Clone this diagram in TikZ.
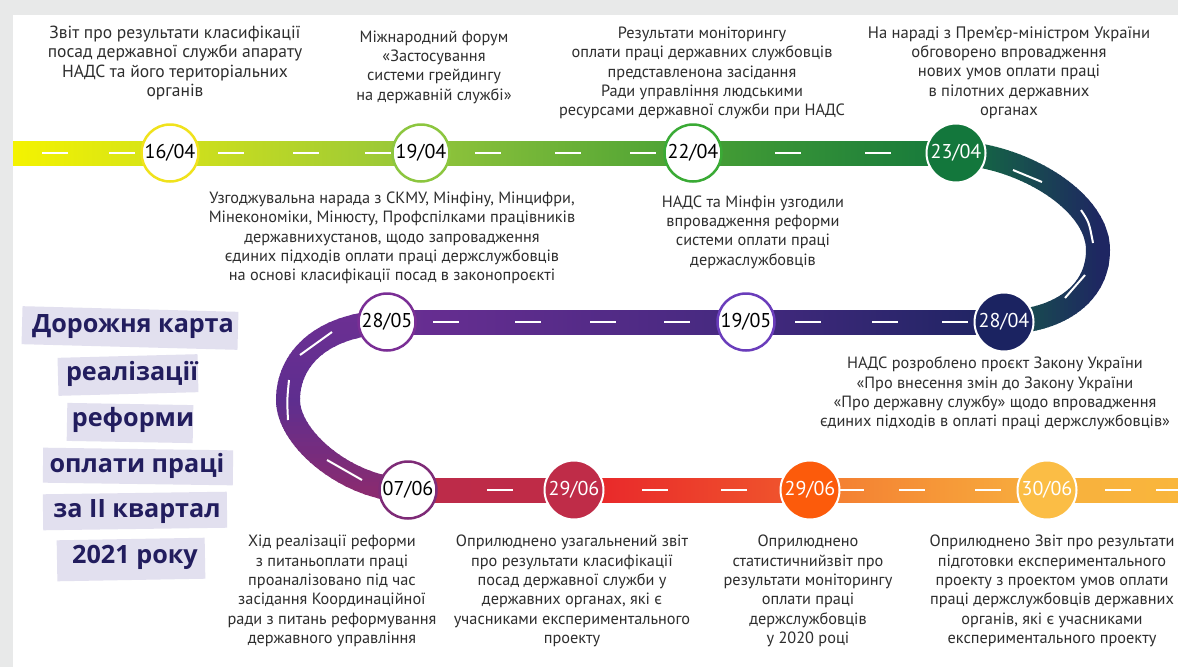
\documentclass[tikz,border=0pt]{standalone}
\usepackage{fontspec}
\setmainfont{PT Sans}
\newfontfamily\titlefont{Open Sans}
\pgfdeclarelayer{road}
\pgfsetlayers{road,main}
\definecolor{bggray}{HTML}{E8E9E9}
\definecolor{r0}{HTML}{F4F300}
\definecolor{r1}{HTML}{D3E21A}
\definecolor{r2}{HTML}{93C53B}
\definecolor{r3}{HTML}{48A034}
\definecolor{r4}{HTML}{13773C}
\definecolor{cGreen}{HTML}{12733D}
\definecolor{cNavy}{HTML}{1E2662}
\definecolor{m0}{HTML}{6A2E93}
\definecolor{m1}{HTML}{44297F}
\definecolor{m2}{HTML}{1D2461}
\definecolor{lTop}{HTML}{6C2F93}
\definecolor{lMid}{HTML}{5E2E8F}
\definecolor{lBot}{HTML}{8A2B70}
\definecolor{b0}{HTML}{BC2B4A}
\definecolor{b1}{HTML}{C02B46}
\definecolor{b2}{HTML}{E8232A}
\definecolor{b3}{HTML}{F0592D}
\definecolor{b4}{HTML}{F37A31}
\definecolor{b5}{HTML}{F8B03E}
\definecolor{b6}{HTML}{F9B63C}
\definecolor{c16}{HTML}{F0E21C}
\definecolor{c19}{HTML}{8CC63F}
\definecolor{c22}{HTML}{3AAA35}
\definecolor{c23}{HTML}{13773C}
\definecolor{c28a}{HTML}{1B2361}
\definecolor{c19m}{HTML}{6A3DBB}
\definecolor{c28m}{HTML}{7A2E95}
\definecolor{c07}{HTML}{7E2B77}
\definecolor{c29a}{HTML}{BF2C48}
\definecolor{c29b}{HTML}{FC5B0B}
\definecolor{c30}{HTML}{FBBD45}
\definecolor{txtgray}{HTML}{2E2E2E}
\definecolor{ttlnavy}{HTML}{221D5E}
\definecolor{hlgray}{HTML}{E2E0EF}
\newcommand{\datefont}{\fontsize{20}{24}\selectfont}
\newcommand{\notefont}{\fontsize{16.3}{19.3}\selectfont}
\newcommand{\bignotefont}{\fontsize{17.5}{19.6}\selectfont}
\newcommand{\headfont}{\titlefont\bfseries\fontsize{25.2}{28}\selectfont}
\begin{document}
\begin{tikzpicture}[x=1pt,y=-1pt,
  dopen/.style={circle, fill=white, draw=#1, line width=2.5pt, minimum size=57pt, inner sep=0pt, font=\datefont, text=black},
  dfull/.style={circle, fill=#1, draw=white, line width=2pt, minimum size=59pt, inner sep=0pt, font=\datefont, text=white},
  txt/.style={align=center, font=\notefont, text=txtgray, inner sep=0pt},
  ttl/.style={font=\headfont, text=ttlnavy, inner sep=0pt},
  hl/.style={fill=hlgray},
  dsh/.style={white, line width=2pt},
  roadline/.style={line width=24pt}]
\useasboundingbox (0,0) rectangle (1178,667);

% date circles
\node[dopen=c16] (d1) at (170,153) {16/04};
\node[dopen=c19] (d2) at (421,153) {19/04};
\node[dopen=c22] (d3) at (693,153) {22/04};
\node[dfull=c23] (d4) at (956,153) {23/04};
\node[dfull=c28a] (d5) at (1004,322) {28/04};
\node[dopen=c19m] (d6) at (746,322) {19/05};
\node[dopen=c28m] (d7) at (387,322) {28/05};
\node[dopen=c07] (d8) at (408,490) {07/06};
\node[dfull=c29a] (d9) at (574,490) {29/06};
\node[dfull=c29b] (d10) at (810,490) {29/06};
\node[dfull=c30] (d11) at (1047,490) {30/06};
\coordinate (rl) at (13,153);
\coordinate (rr) at (1178,490);
\coordinate (re) at (1098,250);
\coordinate (le) at (288,400);

\begin{pgfonlayer}{road}
\fill[bggray] (0,0) rectangle (1178,667);
\fill[white] (13,15) rectangle (1178,667);
% top road
\shade[left color=r0, right color=r1] ([yshift=12pt]rl) rectangle ([yshift=-12pt,xshift=0.5pt]d1.center);
\shade[left color=r1, right color=r2] ([yshift=12pt]d1.center) rectangle ([yshift=-12pt,xshift=0.5pt]d2.center);
\shade[left color=r2, right color=r3] ([yshift=12pt]d2.center) rectangle ([yshift=-12pt,xshift=0.5pt]d3.center);
\shade[left color=r3, right color=r4] ([yshift=12pt]d3.center) rectangle ([yshift=-12pt,xshift=0.5pt]d4.center);
% right curve
\foreach \i in {0,...,42} {
  \pgfmathsetmacro\p{min(100,100*\i/38)}
  \begin{scope}
    \clip (948+4*\i,120) rectangle (952.6+4*\i,350);
    \draw[roadline, color=cNavy!\p!cGreen] (d4.center) .. controls +(64,2) and +(0,-50) .. (re) .. controls +(0,48) and +(48,0) .. (d5.center);
  \end{scope}
}
% middle road
\shade[left color=m0, right color=m1] ([yshift=12pt]d7.center) rectangle ([yshift=-12pt,xshift=0.5pt]d6.center);
\shade[left color=m1, right color=m2] ([yshift=12pt]d6.center) rectangle ([yshift=-12pt,xshift=0.5pt]d5.center);
% left curve
\foreach \i in {0,...,55} {
  \pgfmathsetmacro\yy{302+4*\i}
  \pgfmathsetmacro\p{max(0,min(100,(\yy-400)/90*100))}
  \pgfmathsetmacro\q{max(0,min(100,(400-\yy)/90*100))}
  \colorlet{tmpc}{lTop!\q!lMid}
  \begin{scope}
    \clip (250,\yy) rectangle (440,\yy+4.6);
    \draw[roadline, color=lBot!\p!tmpc] (d7.center) .. controls +(-67,3) and +(0,-40) .. (le) .. controls +(0,40) and +(-58,0) .. (d8.center);
  \end{scope}
}
% bottom road
\shade[left color=b0, right color=b1] ([yshift=12pt]d8.center) rectangle ([yshift=-12pt,xshift=0.5pt]d9.center);
\shade[left color=b2, right color=b3] ([yshift=12pt]d9.center) rectangle ([yshift=-12pt,xshift=0.5pt]d10.center);
\shade[left color=b4, right color=b5] ([yshift=12pt]d10.center) rectangle ([yshift=-12pt,xshift=0.5pt]d11.center);
\shade[left color=b5, right color=b6] ([yshift=12pt]d11.center) rectangle ([yshift=-12pt]rr);
% dashes
\foreach \x in {42,109,218,293,365,475,555,630,775,865} \draw[dsh] (\x,153) -- ++(26,0);
\foreach \x in {433,515,590,664,795,872,942} \draw[dsh] (\x,322) -- ++(26,0);
\foreach \x in {487,642,721,838,899,975,1105,1156} \draw[dsh] (\x,490) -- ++(26,0);
\draw[dsh] (1013,170) -- (1042,182);
\draw[dsh] (1081,210) .. controls (1089,222) .. (1093,243);
\draw[dsh] (1085,275) -- (1065,298);
\draw[dsh] (332,332) -- (300,355);
\draw[dsh] (289,380) .. controls (287,400) .. (288,420);
\draw[dsh] (327,460) -- (362,480);
\end{pgfonlayer}

% title
\fill[hl, rotate around={-1.5:(130,328)}] (22,309) rectangle (238,347);
\fill[hl, rotate around={1.5:(128,375)}] (58,356) rectangle (198,394);
\fill[hl, rotate around={-1:(130,423)}] (67,404) rectangle (193,442);
\fill[hl, rotate around={-0.8:(138,466)}] (43,449) rectangle (233,484);
\fill[hl, rotate around={0.8:(135,511)}] (43,493) rectangle (227,529);
\fill[hl, rotate around={1:(131,559)}] (57,539) rectangle (205,580);
\node[ttl] (h1) at (133,327) {Дорожня карта};
\node[ttl] (h2) at (132,374) {реалізації};
\node[ttl] (h3) at (133,420) {реформи};
\node[ttl] (h4) at (137,466) {оплати праці};
\node[ttl] (h5) at (137,512) {за II квартал};
\node[ttl] (h6) at (135,557) {2021 року};

% notes
\node[txt, font=\bignotefont] (t1) at (175,63) {Звіт про результати класифікації\\посад державної служби апарату\\НАДС та його територіальних\\органів};
\node[txt] (t2) at (434,67) {Міжнародний форум\\«Застосування\\системи грейдингу\\на державній службі»};
\node[txt] (t3) at (702,73) {Результати моніторингу\\оплати праці державних службовців\\представленона засідання\\Ради управління людськими\\ресурсами державної служби при НАДС};
\node[txt, font=\fontsize{16.6}{19.3}\selectfont] (t4) at (1009,72.5) {На нараді з Прем’єр-міністром України\\обговорено впровадження\\нових умов оплати праці\\в пілотних державних\\органах};
\node[txt] (t5) at (392,238) {Узгоджувальна нарада з СКМУ, Мінфіну, Мінцифри,\\Мінекономіки, Мінюсту, Профспілками працівників\\державнихустанов, щодо запровадження\\єдиних підходів оплати праці держслужбовців\\на основі класифікації посад в законопроєкті};
\node[txt] (t6) at (753,232) {НАДС та Мінфін узгодили\\впровадження реформи\\системи оплати праці\\держаслужбовців};
\node[txt] (t7) at (995,393.5) {НАДС розроблено проєкт Закону України\\«Про внесення змін до Закону України\\«Про державну службу» щодо впровадження\\єдиних підходів в оплаті праці держслужбовців»};
\node[txt] (t8) at (332,591) {Хід реалізації реформи\\з питаньоплати праці\\проаналізовано під час\\засідання Координаційної\\ради з питань реформування\\державного управління};
\node[txt] (t9) at (572,591) {Оприлюднено узагальнений звіт\\про результати класифікації\\посад державної служби у\\державних органах, які є\\учасниками експериментального\\проекту};
\node[txt] (t10) at (808,591) {Оприлюднено\\статистичнийзвіт про\\результати моніторингу\\оплати праці\\держслужбовців\\у 2020 році};
\node[txt] (t11) at (1052,591) {Оприлюднено Звіт про результати\\підготовки експериментального\\проекту з проектом умов оплати\\праці держслужбовців державних\\органів, які є учасниками\\експериментального проекту};
\end{tikzpicture}
\end{document}
